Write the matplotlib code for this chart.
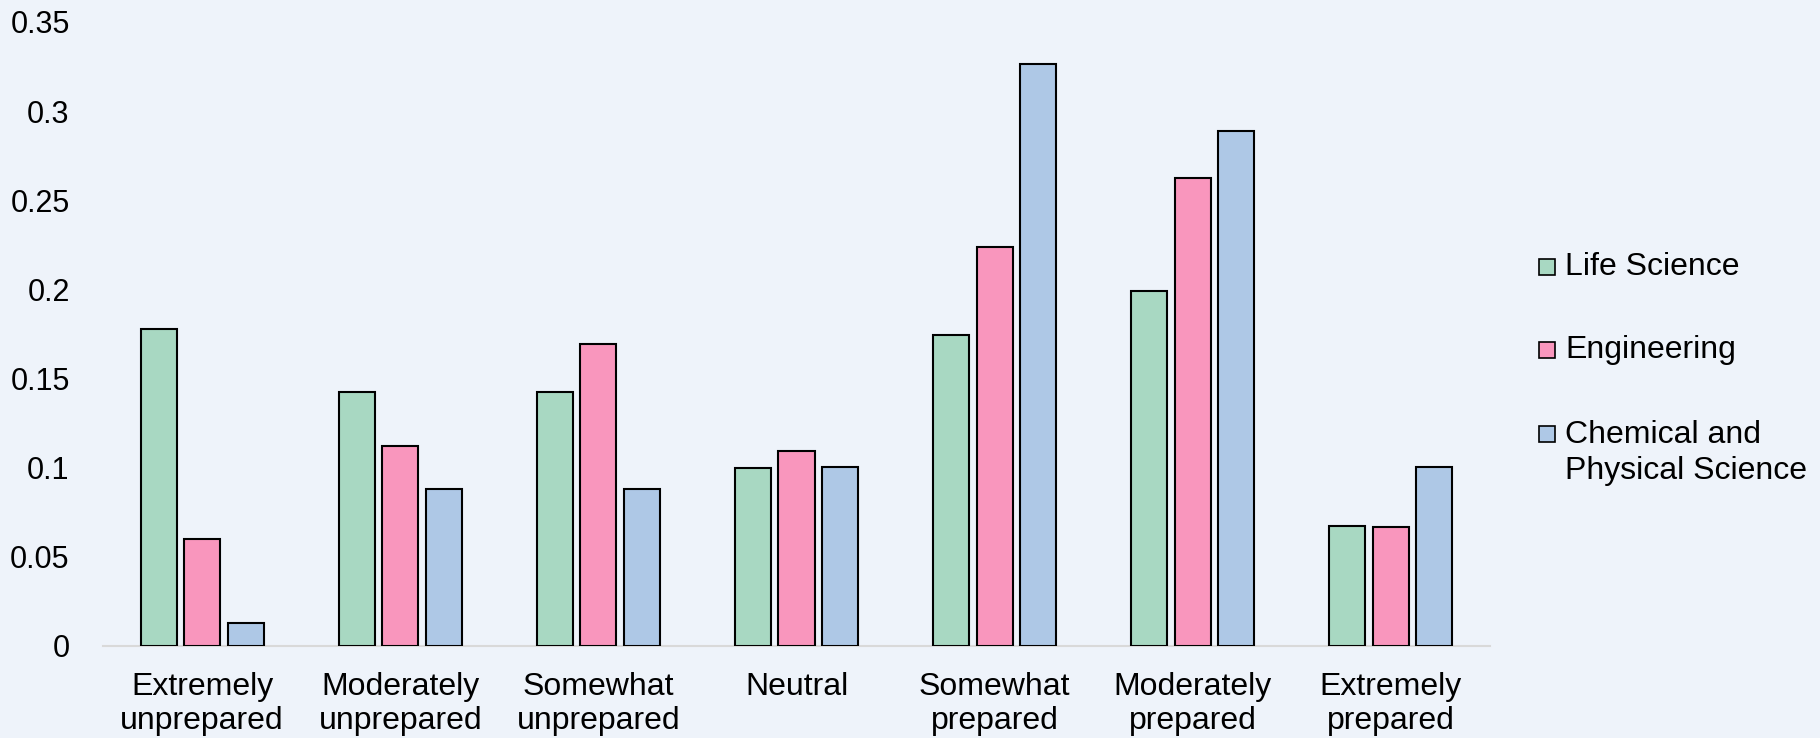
import numpy as np
import matplotlib.pyplot as plt
from matplotlib.patches import Rectangle

plt.rcParams['font.family'] = ['Liberation Sans', 'DejaVu Sans']

# Share of respondents per preparedness level, by field
categories = ['Extremely\nunprepared', 'Moderately\nunprepared', 'Somewhat\nunprepared',
              'Neutral', 'Somewhat\nprepared', 'Moderately\nprepared', 'Extremely\nprepared']
life_science = [0.178, 0.1426, 0.1426, 0.0997, 0.1744, 0.1993, 0.0671]
engineering = [0.0598, 0.1122, 0.1695, 0.1095, 0.2240, 0.2627, 0.0665]
chem_phys = [0.0127, 0.0881, 0.0881, 0.1004, 0.3264, 0.2889, 0.1004]
series_names = ['Life Science', 'Engineering', 'Chemical and\nPhysical Science']
yticks = [0, 0.05, 0.1, 0.15, 0.2, 0.25, 0.3, 0.35]
ytick_labels = ['0', '0.05', '0.1', '0.15', '0.2', '0.25', '0.3', '0.35']

bg = '#EEF3FA'
colors = ['#A8D8C2', '#F996BD', '#AEC8E6']

fig = plt.figure(figsize=(18.2, 7.38), dpi=100, facecolor=bg)
ax = fig.add_axes([0.0566, 0.1247, 0.7621, 0.8455], facecolor=bg)

x = np.arange(len(categories))
width = 0.182
step = 0.2195
bars = []
for i, (vals, name, c) in enumerate(zip([life_science, engineering, chem_phys], series_names, colors)):
    b = ax.bar(x + (i - 1) * step, vals, width, color=c, edgecolor='black',
               linewidth=1.5, label=name, zorder=3)
    bars.append(b)

ax.set_xlim(-0.5, len(categories) - 0.5)
ax.set_ylim(0, 0.35)
ax.set_yticks(yticks)
ax.set_yticklabels(ytick_labels)
ax.set_xticks(x)
ax.set_xticklabels(categories, linespacing=1.15)
ax.tick_params(axis='both', length=0, colors='black')
ax.tick_params(axis='y', pad=24, labelsize=22)
ax.tick_params(axis='x', pad=19, labelsize=23)

for s in ['top', 'right', 'left']:
    ax.spines[s].set_visible(False)
ax.spines['bottom'].set_color('#D9D9D9')
ax.spines['bottom'].set_linewidth(1.5)
ax.spines['bottom'].set_zorder(2)

# legend on the right, square aligned with the first line of each label
key_y = [0.6385, 0.5255, 0.4116]
text_y = [0.6385, 0.5255, 0.3866]
sq_w, sq_h = 16 / 1820, 16 / 738
for b, name, ky, ty in zip(bars, series_names, key_y, text_y):
    fig.patches.append(Rectangle((0.8456, ky - sq_h / 2), sq_w, sq_h,
                                 transform=fig.transFigure,
                                 facecolor=b.patches[0].get_facecolor(),
                                 edgecolor='black', linewidth=1.2))
    fig.text(0.8599, ty, name, fontsize=23, va='center', ha='left',
             linespacing=1.27, color='black')

fig.savefig('out.png', dpi=100, facecolor=bg)
